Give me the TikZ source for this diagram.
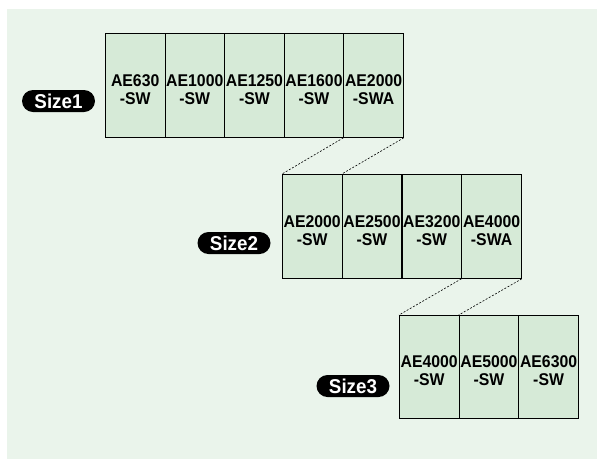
\documentclass[tikz,border=0pt]{standalone}
\usepackage{fontspec}
\setmainfont{Liberation Sans}
\newfontfamily\cellface[FakeStretch=0.93]{Liberation Sans}
\newfontfamily\pillface[FakeStretch=0.94]{Liberation Sans}
\definecolor{bggreen}{RGB}{234,244,235}
\definecolor{cellgreen}{RGB}{214,234,215}
\newcommand{\cellfnt}{\cellface\fontsize{17}{18.3}\selectfont\bfseries}
\newcommand{\pillfnt}{\pillface\fontsize{20}{22}\selectfont\bfseries}
\newcommand{\ct}[2]{\rule{0pt}{20pt}#1\\#2}
\tikzset{
  cell/.style={draw=black, line width=0.8pt, fill=cellgreen, minimum width=59.6pt,
    minimum height=104pt, inner sep=0pt, anchor=north west, align=center,
    font=\cellfnt, text=black},
  pill/.style={fill=black, rounded corners=11pt, minimum width=73pt, minimum height=22pt,
    text=white, font=\pillfnt, inner sep=0pt},
  link/.style={dash pattern=on 2pt off 1.6pt, line width=0.6pt}
}
\begin{document}
\begin{tikzpicture}[x=1pt,y=-1pt]
\useasboundingbox (0,0) rectangle (597,459);
\fill[bggreen] (7,9) rectangle (597,459);
% Size1
\node[cell] (s1a) at (105,33) {\ct{AE630}{-SW}};
\node[cell] (s1b) at (164.6,33) {\ct{AE1000}{-SW}};
\node[cell] (s1c) at (224.2,33) {\ct{AE1250}{-SW}};
\node[cell] (s1d) at (283.8,33) {\ct{AE1600}{-SW}};
\node[cell] (s1e) at (343.4,33) {\ct{AE2000}{-SWA}};
\node[pill] (p1) at (58.5,101) {Size1};
% Size2
\node[cell] (s2a) at (282,174) {\ct{AE2000}{-SW}};
\node[cell] (s2b) at (341.8,174) {\ct{AE2500}{-SW}};
\node[cell] (s2c) at (401.6,174) {\ct{AE3200}{-SW}};
\node[cell] (s2d) at (461.4,174) {\ct{AE4000}{-SWA}};
\node[pill] (p2) at (234,243) {Size2};
% Size3
\node[cell, minimum height=103pt] (s3a) at (399,315) {\ct{AE4000}{-SW}};
\node[cell, minimum height=103pt] (s3b) at (458.7,315) {\ct{AE5000}{-SW}};
\node[cell, minimum height=103pt] (s3c) at (518.4,315) {\ct{AE6300}{-SW}};
\node[pill] (p3) at (353,386) {Size3};
% links
\draw[link] (s1e.south west) -- (s2a.north west);
\draw[link] (s1e.south east) -- (s2b.north west);
\draw[link] (s2d.south west) -- (s3a.north west);
\draw[link] (s2d.south east) -- (s3b.north west);
\end{tikzpicture}
\end{document}
